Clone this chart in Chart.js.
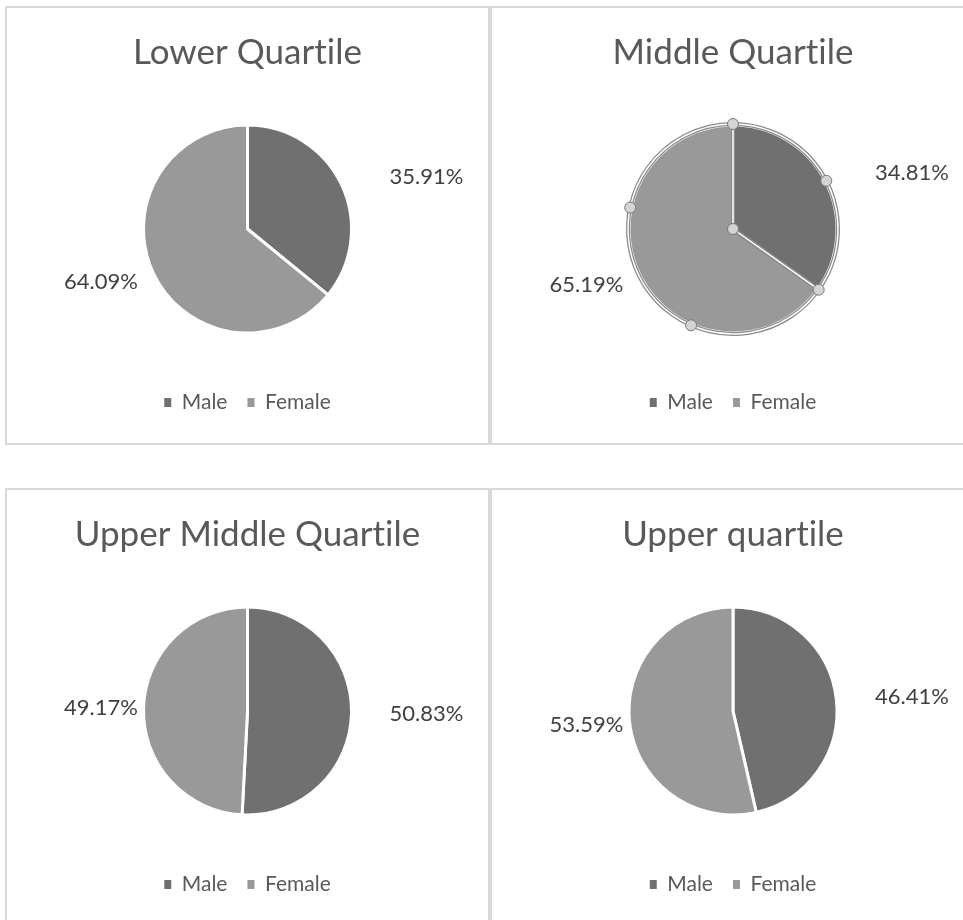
<!DOCTYPE html>
<html><head><meta charset="utf-8">
<script src="https://cdn.jsdelivr.net/npm/chart.js@4.4.0/dist/chart.umd.min.js"></script>
<style>
html,body{margin:0;padding:0;background:#fff;width:963px;height:920px;overflow:hidden;}
.panel{position:absolute;box-sizing:border-box;border:2px solid #d9d9d9;background:#fff;}
.inner{position:relative;width:100%;height:100%;}
.inner canvas{display:block;font-variant-ligatures:none;}
</style></head><body>
<div class="panel" style="left:5px;top:6px;width:485px;height:439px"><div class="inner"><canvas id="c0"></canvas></div></div>
<div class="panel" style="left:490px;top:6px;width:486px;height:439px"><div class="inner"><canvas id="c1"></canvas></div></div>
<div class="panel" style="left:5px;top:488px;width:485px;height:439px"><div class="inner"><canvas id="c2"></canvas></div></div>
<div class="panel" style="left:490px;top:488px;width:486px;height:439px"><div class="inner"><canvas id="c3"></canvas></div></div>
<script>
// ---- data ----
const categories = ['Male', 'Female'];
const chartTitles = ['Lower Quartile', 'Middle Quartile', 'Upper Middle Quartile', 'Upper quartile'];
const maleShare = [35.91, 34.81, 50.83, 46.41];
const femaleShare = [64.09, 65.19, 49.17, 53.59];
const selectedChart = 1; // the chart shown with selection handles

// ---- styles ----
const FONT = 'Lato, "Open Sans", sans-serif';
const sliceColors = ['#707070', '#999999'];

const noLigatures = {
  id: 'noLigatures',
  beforeDraw(chart) {
    try { chart.ctx.letterSpacing = '0.01px'; } catch (e) {}
  }
};

const labelPlugin = {
  id: 'outsideLabels',
  afterDatasetsDraw(chart) {
    const ctx = chart.ctx;
    const meta = chart.getDatasetMeta(0);
    const ds = chart.data.datasets[0];
    ctx.save();
    ctx.font = '22px ' + FONT;
    ctx.fillStyle = '#404040';
    ctx.textAlign = 'center';
    ctx.textBaseline = 'middle';
    meta.data.forEach((arc, i) => {
      const p = arc.getProps(['x', 'y', 'startAngle', 'endAngle', 'outerRadius'], true);
      const mid = (p.startAngle + p.endAngle) / 2;
      const R = p.outerRadius;
      const tx = p.x + (Math.cos(mid) >= 0 ? 1.72 * R : -1.41 * R);
      const ty = p.y + 1.18 * R * Math.sin(mid);
      ctx.fillText(ds.data[i].toFixed(2) + '%', tx, ty);
    });
    ctx.restore();
  }
};

const selectionPlugin = {
  id: 'selection',
  afterDatasetsDraw(chart, args, opts) {
    if (!opts.active) return;
    const ctx = chart.ctx;
    const meta = chart.getDatasetMeta(0);
    ctx.save();
    const handles = [];
    meta.data.forEach((arc) => {
      const p = arc.getProps(['x', 'y', 'startAngle', 'endAngle', 'outerRadius'], true);
      const R = p.outerRadius + 1;
      ctx.beginPath();
      ctx.moveTo(p.x, p.y);
      ctx.arc(p.x, p.y, R, p.startAngle, p.endAngle);
      ctx.closePath();
      ctx.lineJoin = 'round';
      ctx.strokeStyle = '#8a8a8a';
      ctx.lineWidth = 4;
      ctx.stroke();
      ctx.strokeStyle = '#ffffff';
      ctx.lineWidth = 1.5;
      ctx.stroke();
      const span = p.endAngle - p.startAngle;
      const n = Math.ceil(span / (Math.PI / 2) - 1e-6);
      for (let k = 0; k < n; k++) {
        const a = p.startAngle + span * k / n;
        handles.push([p.x + R * Math.cos(a), p.y + R * Math.sin(a)]);
      }
      handles.push([p.x, p.y]);
    });
    handles.forEach(([hx, hy]) => {
      ctx.beginPath();
      ctx.arc(hx, hy, 5.5, 0, Math.PI * 2);
      ctx.fillStyle = '#d4d4d4';
      ctx.fill();
      ctx.strokeStyle = '#7a7a7a';
      ctx.lineWidth = 1;
      ctx.stroke();
    });
    ctx.restore();
  }
};

function makeChart(idx) {
  const ctx = document.getElementById('c' + idx);
  return new Chart(ctx, {
    type: 'pie',
    data: {
      labels: categories,
      datasets: [{
        data: [maleShare[idx], femaleShare[idx]],
        backgroundColor: sliceColors,
        borderColor: '#ffffff',
        borderWidth: 3,
        radius: 104
      }]
    },
    plugins: [noLigatures, labelPlugin, selectionPlugin],
    options: {
      responsive: true,
      maintainAspectRatio: false,
      animation: false,
      events: [],
      layout: { padding: { top: 0, bottom: 20, left: 0, right: 0 } },
      plugins: {
        tooltip: { enabled: false },
        selection: { active: idx === selectedChart },
        title: {
          display: true,
          text: chartTitles[idx],
          color: '#595959',
          font: { family: FONT, size: 35, weight: 'normal', lineHeight: 1.2 },
          padding: { top: 24, bottom: 12 }
        },
        legend: {
          display: true,
          position: 'bottom',
          labels: {
            color: '#595959',
            font: { family: FONT, size: 21 },
            boxWidth: 7,
            boxHeight: 9,
            padding: 20,
            generateLabels(chart) {
              const base = Chart.overrides.pie.plugins.legend.labels.generateLabels(chart);
              return base.map(l => Object.assign(l, { lineWidth: 0, strokeStyle: 'rgba(0,0,0,0)' }));
            }
          }
        }
      }
    }
  });
}

[0, 1, 2, 3].forEach(makeChart);
</script>
</body></html>
